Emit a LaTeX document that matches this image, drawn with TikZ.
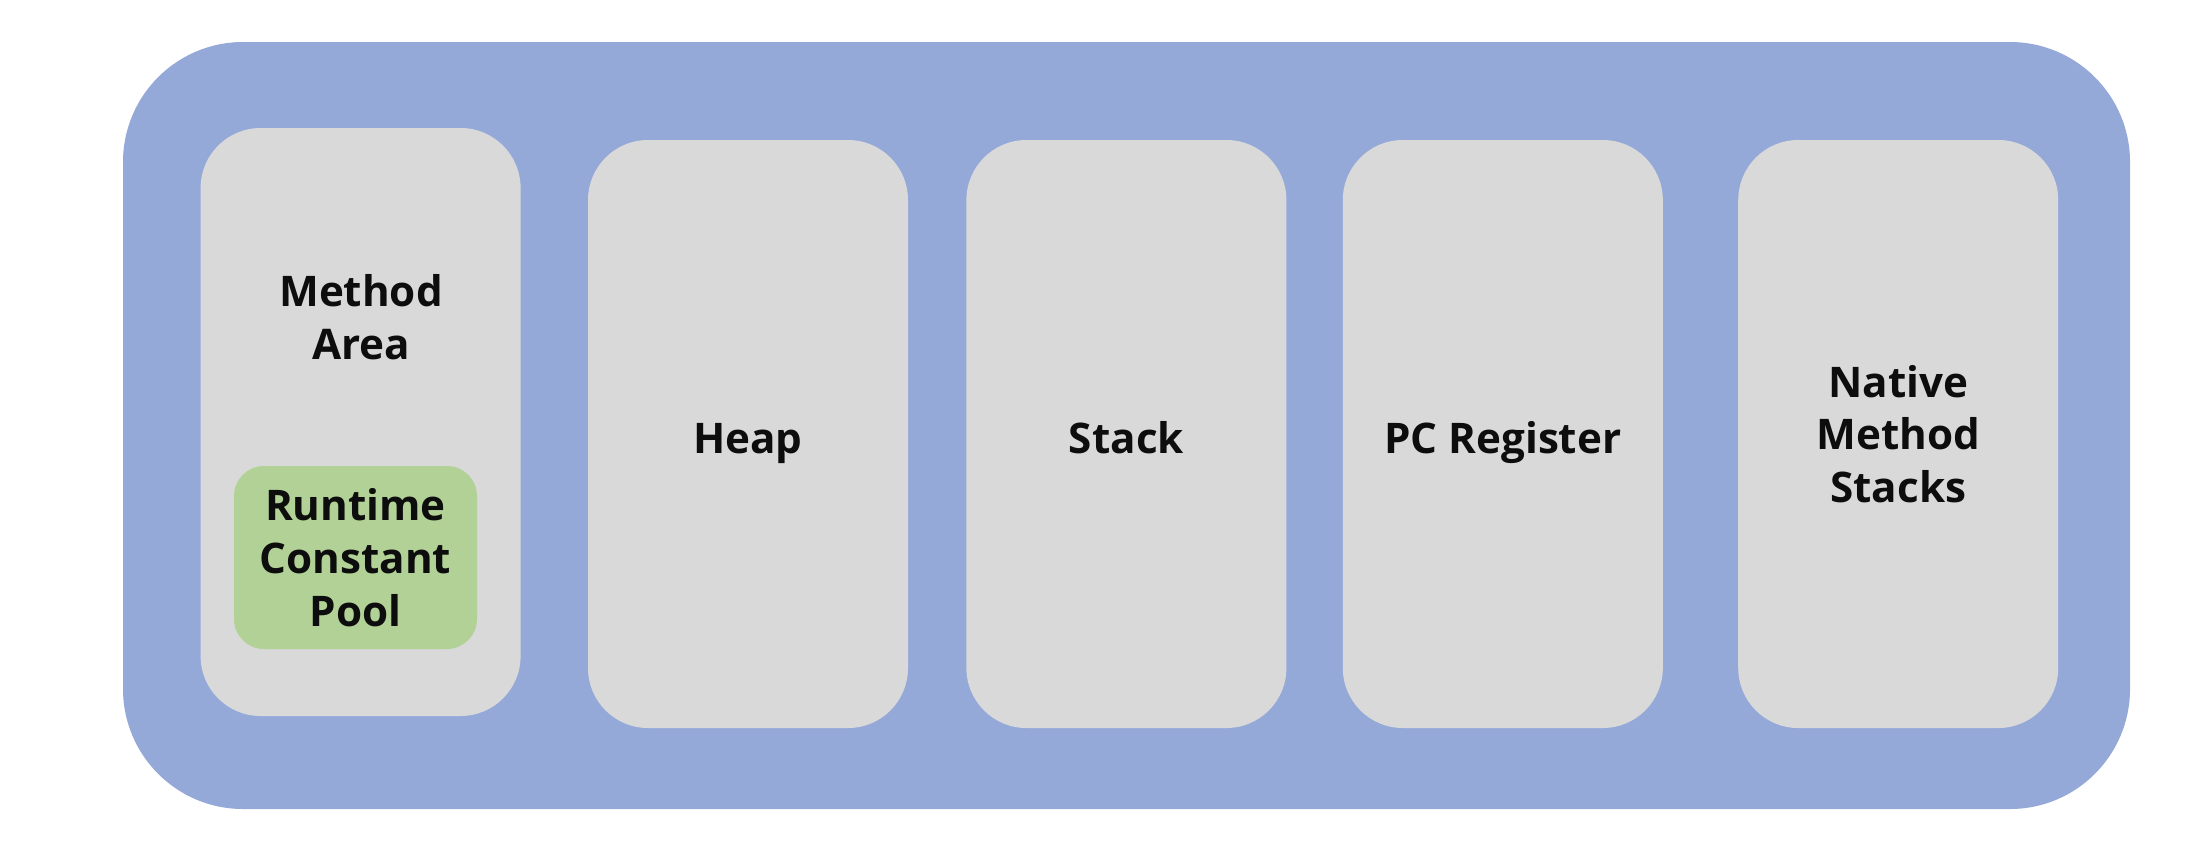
\documentclass[tikz,border=0pt]{standalone}
\usepackage{fontspec}
\setmainfont{Open Sans}
\usetikzlibrary{positioning}
\definecolor{jvmblue}{HTML}{95A9D8}
\definecolor{areagray}{HTML}{D9D9D9}
\definecolor{poolgreen}{HTML}{B2D196}
\definecolor{txt}{HTML}{0D0D0D}
\tikzset{
  memarea/.style={rectangle, fill=areagray, rounded corners=0.6cm,
    minimum width=3.2cm, minimum height=5.88cm, inner sep=0pt},
  pool/.style={rectangle, fill=poolgreen, rounded corners=0.3cm,
    minimum width=2.43cm, minimum height=1.83cm, inner sep=0pt},
  lbl/.style={text=txt, align=center,
    font=\fontsize{12}{15}\selectfont\bfseries},
  oneline/.style={text height=0.38cm, text depth=0pt}
}
\begin{document}
\begin{tikzpicture}
  \useasboundingbox (0,0) rectangle (21.94,8.56);
  % JVM runtime data areas
  \fill[jvmblue, rounded corners=1.2cm] (1.23,0.47) rectangle (21.30,8.14);
  \node[memarea, lbl, oneline](Heap)	at (7.48,4.22)		{Heap};
  \node[memarea, lbl, oneline](Stack)	[right=0.57cm of Heap]	{Stack};
  \node[memarea, lbl, oneline](PCRegister)	[right=0.55cm of Stack]	{PC Register};
  \node[memarea, lbl](NativeStacks)	[right=0.74cm of PCRegister]	{Native\\Method\\Stacks};
  \node[memarea](MethodArea)	[left=0.66cm of Heap, yshift=0.12cm]	{};
  \node[lbl](MethodAreaLbl)	at (3.61,5.39)	{Method\\Area};
  \node[pool, lbl](ConstPool)	at (3.555,2.985)	{Runtime\\Constant\\Pool};
\end{tikzpicture}
\end{document}
